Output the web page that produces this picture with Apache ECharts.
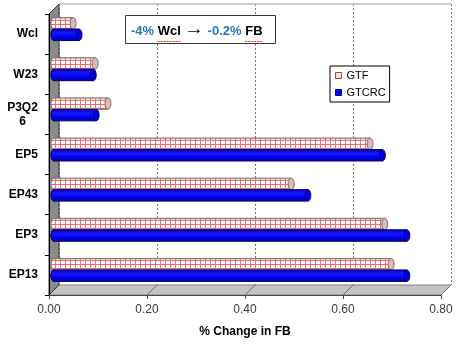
<!DOCTYPE html>
<html>
<head>
<meta charset="utf-8">
<script src="https://cdn.jsdelivr.net/npm/echarts@6/dist/echarts.min.js"></script>
<style>
  html, body { margin: 0; padding: 0; background: #ffffff; }
  #chart { width: 461px; height: 346px; }
</style>
</head>
<body>
<div id="chart"></div>
<script>
// Categories top to bottom and % change in FB per model
const categories = ['Wcl', 'W23', 'P3Q26', 'EP5', 'EP43', 'EP3', 'EP13'];
const gtfValues   = [0.039, 0.084, 0.110, 0.645, 0.484, 0.675, 0.688];
const gtcrcValues = [0.051, 0.080, 0.086, 0.670, 0.518, 0.720, 0.720];
const xTicks = [0, 0.2, 0.4, 0.6, 0.8];
const seriesNames = ['GTF', 'GTCRC'];

// Pseudo-3D box: front plane, bar plane (middle), back plane
const FRONT = { left: 49, top: 14, width: 392, height: 281 };
const DEPTH = 10;
const FAMILY = 'Liberation Sans';
const BLUE_TEXT = '#2a75bb';

// Red check pattern used on the GTF cylinders
const tile = document.createElement('canvas');
tile.width = 5; tile.height = 4;
const tg = tile.getContext('2d');
tg.fillStyle = '#ffffff'; tg.fillRect(0, 0, 5, 4);
tg.fillStyle = '#f06a6a';
tg.fillRect(0, 0, 1, 4);
tg.fillRect(0, 0, 5, 1);
const checkFill = { image: tile, repeat: 'repeat' };

function gridAt(off) {
  return { left: FRONT.left + off, top: FRONT.top - off, width: FRONT.width, height: FRONT.height, containLabel: false };
}

function drawCylinder(api, idx) {
  const v = api.value(0), c = api.value(1);
  const s = api.coord([0, c]);
  const e = api.coord([v, c]);
  const band = api.size([0, 1])[1];
  const h = band * 0.286;
  const cy = s[1] + (idx === 0 ? -0.5 : 0.5) * h;
  const ry = h / 2, rx = 3;
  const isGtf = idx === 0;
  const stroke = isGtf ? '#8a6c6c' : '#00006a';
  const body = isGtf ? checkFill : new echarts.graphic.LinearGradient(0, 0, 0, 1, [
    { offset: 0, color: '#0000c4' }, { offset: 0.35, color: '#1818ff' },
    { offset: 0.65, color: '#0000f4' }, { offset: 1, color: '#0000b0' }]);
  const children = [
    { type: 'ellipse', shape: { cx: s[0], cy: cy, rx: rx, ry: ry }, style: { fill: body, stroke: stroke, lineWidth: 1 } },
    { type: 'rect', shape: { x: s[0], y: cy - ry, width: e[0] - s[0], height: h }, style: { fill: body } }
  ];
  if (isGtf) {
    children.push({ type: 'rect', shape: { x: s[0], y: cy - ry, width: e[0] - s[0], height: h },
      style: { fill: new echarts.graphic.LinearGradient(0, 0, 0, 1, [
        { offset: 0, color: 'rgba(110,70,70,0.35)' }, { offset: 0.35, color: 'rgba(255,255,255,0)' },
        { offset: 0.65, color: 'rgba(255,255,255,0)' }, { offset: 1, color: 'rgba(110,70,70,0.35)' }]) } });
  }
  children.push(
    { type: 'line', shape: { x1: s[0], y1: cy - ry, x2: e[0], y2: cy - ry }, style: { stroke: stroke, lineWidth: 1 } },
    { type: 'line', shape: { x1: s[0], y1: cy + ry, x2: e[0], y2: cy + ry }, style: { stroke: stroke, lineWidth: 1 } },
    { type: 'ellipse', shape: { cx: e[0], cy: cy, rx: rx, ry: ry },
      style: { fill: isGtf ? '#d8bcbc' : '#0000dc', stroke: stroke, lineWidth: 1 } }
  );
  return { type: 'group', children: children };
}

function cylinderSeries(name, values, idx) {
  return {
    type: 'custom', name: name, xAxisIndex: 1, yAxisIndex: 1, z: 3,
    data: values.map((v, i) => [v, i]),
    encode: { x: 0, y: 1 },
    itemStyle: { color: idx === 0 ? '#ffffff' : '#0000ff', borderColor: idx === 0 ? '#a05050' : '#00006a' },
    renderItem: (params, api) => drawCylinder(api, idx)
  };
}

const valueAxisBase = { type: 'value', min: 0, max: 0.8, interval: 0.2 };
const catAxisBase = { type: 'category', data: categories, inverse: true };

const chart = echarts.init(document.getElementById('chart'), null, { renderer: 'canvas' });

chart.setOption({
  backgroundColor: '#ffffff',
  animation: false,
  textStyle: { fontFamily: FAMILY },
  grid: [gridAt(DEPTH), gridAt(DEPTH / 2), gridAt(0)],
  xAxis: [
    Object.assign({}, valueAxisBase, { gridIndex: 0, axisLine: { show: false }, axisTick: { show: false },
      axisLabel: { show: false }, splitLine: { show: true, lineStyle: { color: '#7a7a7a', type: [2, 2], width: 1 } } }),
    Object.assign({}, valueAxisBase, { gridIndex: 1, show: false }),
    Object.assign({}, valueAxisBase, { gridIndex: 2, z: 5,
      axisLine: { show: true, lineStyle: { color: '#4a4a4a', width: 1 } },
      axisTick: { show: true, length: 4, lineStyle: { color: '#4a4a4a' } },
      splitLine: { show: false },
      axisLabel: { color: '#3c3c3c', fontSize: 12, fontFamily: FAMILY, margin: 9, formatter: v => v.toFixed(2) },
      name: '% Change in FB', nameLocation: 'middle', nameGap: 31,
      nameTextStyle: { color: '#000', fontWeight: 'bold', fontSize: 12, fontFamily: FAMILY } })
  ],
  yAxis: [
    Object.assign({}, catAxisBase, { gridIndex: 0, show: false }),
    Object.assign({}, catAxisBase, { gridIndex: 1, show: false }),
    Object.assign({}, catAxisBase, { gridIndex: 2, z: 5,
      axisLine: { show: true, lineStyle: { color: '#000', width: 1 } },
      axisTick: { show: true, length: 4, lineStyle: { color: '#000' } },
      splitLine: { show: false },
      axisLabel: { color: '#000', fontWeight: 'bold', fontSize: 12, fontFamily: FAMILY, margin: 11,
        formatter: v => v === 'P3Q26' ? '{c|P3Q2}\n{c|6}' : v,
        rich: { c: { width: 31, align: 'center', fontWeight: 'bold', fontSize: 12, lineHeight: 14, color: '#000', fontFamily: FAMILY } } } })
  ],
  legend: {
    orient: 'vertical', left: 330, top: 66,
    padding: [4, 4, 4, 5], itemGap: 6, itemWidth: 6, itemHeight: 6,
    backgroundColor: '#ffffff', borderColor: '#000', borderWidth: 1, borderRadius: 0,
    textStyle: { fontSize: 11, color: '#000', fontFamily: FAMILY },
    data: [
      { name: seriesNames[0], icon: 'rect', itemStyle: { color: '#f4dede', borderColor: '#a04848', borderWidth: 1 } },
      { name: seriesNames[1], icon: 'rect', itemStyle: { color: '#0000ff', borderColor: '#00006a', borderWidth: 1 } }
    ]
  },
  series: [
    cylinderSeries(seriesNames[0], gtfValues, 0),
    cylinderSeries(seriesNames[1], gtcrcValues, 1)
  ]
});

// Walls, floor and the annotation box, placed from the axes above
function buildDecor() {
  const fx = v => chart.convertToPixel({ xAxisIndex: 2 }, v);
  const bx = v => chart.convertToPixel({ xAxisIndex: 0 }, v);
  const fTop = FRONT.top, fBot = FRONT.top + FRONT.height;
  const bTop = fTop - DEPTH, bBot = fBot - DEPTH;
  const x0 = fx(xTicks[0]), x1 = fx(xTicks[xTicks.length - 1]);
  const b0 = bx(xTicks[0]), b1 = bx(xTicks[xTicks.length - 1]);
  const els = [];
  els.push({ type: 'polygon', z: 1, shape: { points: [[x0, fBot], [x1, fBot], [b1, bBot], [b0, bBot]] },
    style: { fill: '#c4c4c4', stroke: '#808080', lineWidth: 1 } });
  xTicks.forEach(v => {
    els.push({ type: 'line', z: 1, shape: { x1: fx(v), y1: fBot, x2: bx(v), y2: bBot }, style: { stroke: '#6a6a6a', lineWidth: 1 } });
  });
  els.push({ type: 'polygon', z: 1, shape: { points: [[x0, fTop], [b0, bTop], [b0, bBot], [x0, fBot]] },
    style: { fill: '#8a8a8a', stroke: '#3a3a3a', lineWidth: 1 } });
  els.push({ type: 'line', z: 1, shape: { x1: b0, y1: bTop, x2: b1, y2: bTop }, style: { stroke: '#bcbcbc', lineWidth: 1.5 } });

  // annotation box "-4% Wcl → -0.2% FB"
  els.push({ type: 'rect', z: 10, shape: { x: 125.5, y: 15.5, width: 150, height: 28 },
    style: { fill: '#ffffff', stroke: '#3a3a3a', lineWidth: 1 } });
  const ctx = document.createElement('canvas').getContext('2d');
  const parts = [
    { t: '-4%', c: BLUE_TEXT }, { t: ' ' }, { t: 'Wcl', u: true }, { t: ' ' }, { t: '\u2192', size: 17, sx: 1.15, dy: -1.5 }, { t: ' ' },
    { t: '-0.2%', c: BLUE_TEXT }, { t: ' ' }, { t: 'FB', u: true }
  ];
  let x = 131;
  const ty = 31;
  parts.forEach(p => {
    const size = p.size || 13;
    const sx = p.sx || 1;
    ctx.font = 'bold ' + size + 'px "' + FAMILY + '"';
    const w = ctx.measureText(p.t).width * sx;
    if (p.t.trim()) {
      els.push({ type: 'text', z: 11, x: x, y: ty + (p.dy || 0), scaleX: sx, style: { text: p.t, fontSize: size, fontWeight: 'bold',
        fontFamily: FAMILY, fill: p.c || '#000', align: 'left', verticalAlign: 'middle' } });
    }
    if (p.u) {
      els.push({ type: 'line', z: 11, shape: { x1: x, y1: 41.5, x2: x + w, y2: 41.5 },
        style: { stroke: '#ff2a2a', lineWidth: 1, lineDash: [2, 1] } });
    }
    x += w;
  });
  chart.setOption({ graphic: { elements: els } });
}
buildDecor();
</script>
</body>
</html>
